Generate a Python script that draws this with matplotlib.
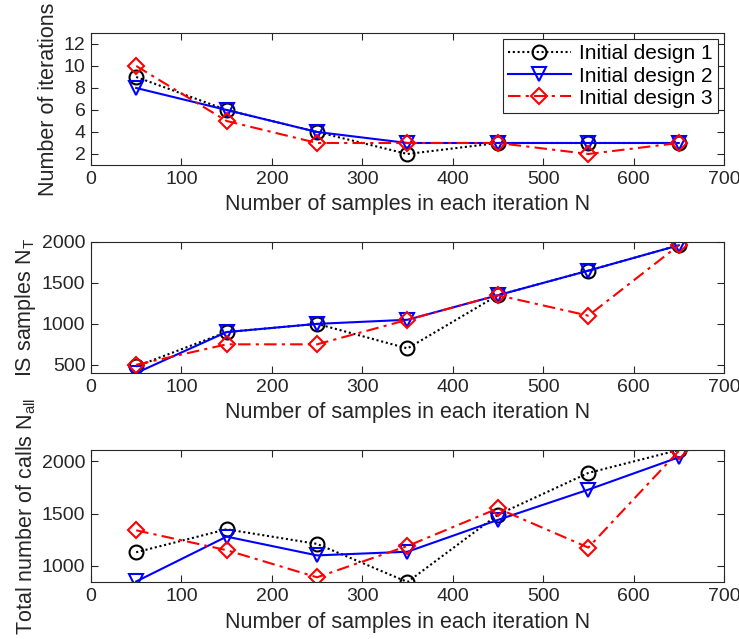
import numpy as np
import matplotlib
matplotlib.use("Agg")
import matplotlib.pyplot as plt

plt.rcParams["font.family"] = ["Liberation Sans", "DejaVu Sans"]
plt.rcParams["mathtext.fontset"] = "custom"
plt.rcParams["mathtext.rm"] = "Liberation Sans"
plt.rcParams["mathtext.it"] = "Liberation Sans:italic"

# samples per iteration
n_samples = [50, 150, 250, 350, 450, 550, 650]

# number of iterations
iters_d1 = [9, 6, 4, 2, 3, 3, 3]
iters_d2 = [8, 6, 4, 3, 3, 3, 3]
iters_d3 = [10, 5, 3, 3, 3, 2, 3]

# IS samples N_T
nt_d1 = [480, 900, 1000, 700, 1350, 1650, 1960]
nt_d2 = [400, 900, 1000, 1050, 1350, 1650, 1960]
nt_d3 = [500, 750, 750, 1050, 1350, 1100, 1960]

# total number of calls N_all
nall_d1 = [1130, 1350, 1210, 845, 1490, 1890, 2110]
nall_d2 = [850, 1280, 1100, 1135, 1440, 1730, 2040]
nall_d3 = [1340, 1150, 890, 1190, 1550, 1175, 2100]

labels = ["Initial design 1", "Initial design 2", "Initial design 3"]
styles = [
    dict(color="k", linestyle=(0, (1, 1.3)), marker="o"),
    dict(color="b", linestyle="-", marker="v"),
    dict(color="r", linestyle=(0, (6, 2.5, 1.5, 2.5)), marker="D"),
]
msizes = [10, 10, 8.5]

panels = [
    ([iters_d1, iters_d2, iters_d3], "Number of iterations", (1, 13), [2, 4, 6, 8, 10, 12]),
    ([nt_d1, nt_d2, nt_d3], r"IS samples N$_\mathrm{T}$", (400, 2000), [500, 1000, 1500, 2000]),
    ([nall_d1, nall_d2, nall_d3], r"Total number of calls N$_\mathrm{all}$", (845, 2110), [1000, 1500, 2000]),
]

fig = plt.figure(figsize=(7.39, 6.39), dpi=100)
boxes = [
    [0.1231, 0.7418, 0.8566, 0.2066],
    [0.1231, 0.4163, 0.8566, 0.2050],
    [0.1231, 0.0892, 0.8566, 0.2066],
]

axc = "#262626"
for i, (series, ylab, ylim, yticks) in enumerate(panels):
    ax = fig.add_axes(boxes[i])
    for y, lab, st, ms in zip(series, labels, styles, msizes):
        ax.plot(n_samples, y, linewidth=1.5, markersize=ms, markerfacecolor="none",
                markeredgewidth=1.5, label=lab, **st)
    ax.set_xlim(0, 700)
    ax.set_ylim(*ylim)
    ax.set_xticks(np.arange(0, 701, 100))
    ax.set_yticks(yticks)
    ax.set_xlabel("Number of samples in each iteration N", fontsize=15.5, color=axc, labelpad=5)
    ax.set_ylabel(ylab, fontsize=15.5, color=axc, labelpad=3)
    ax.tick_params(direction="in", top=True, right=True, labelsize=14, colors=axc,
                   length=5, pad=4)
    for sp in ax.spines.values():
        sp.set_color(axc)
        sp.set_linewidth(0.8)
    if i == 0:
        leg = ax.legend(loc="upper right", fontsize=15, fancybox=False, framealpha=1,
                        edgecolor=axc, handlelength=3.0, borderpad=0.25,
                        labelspacing=0.15, handletextpad=0.4, borderaxespad=0.3)
        leg.get_frame().set_linewidth(0.8)

fig.savefig("out.png", dpi=100)
